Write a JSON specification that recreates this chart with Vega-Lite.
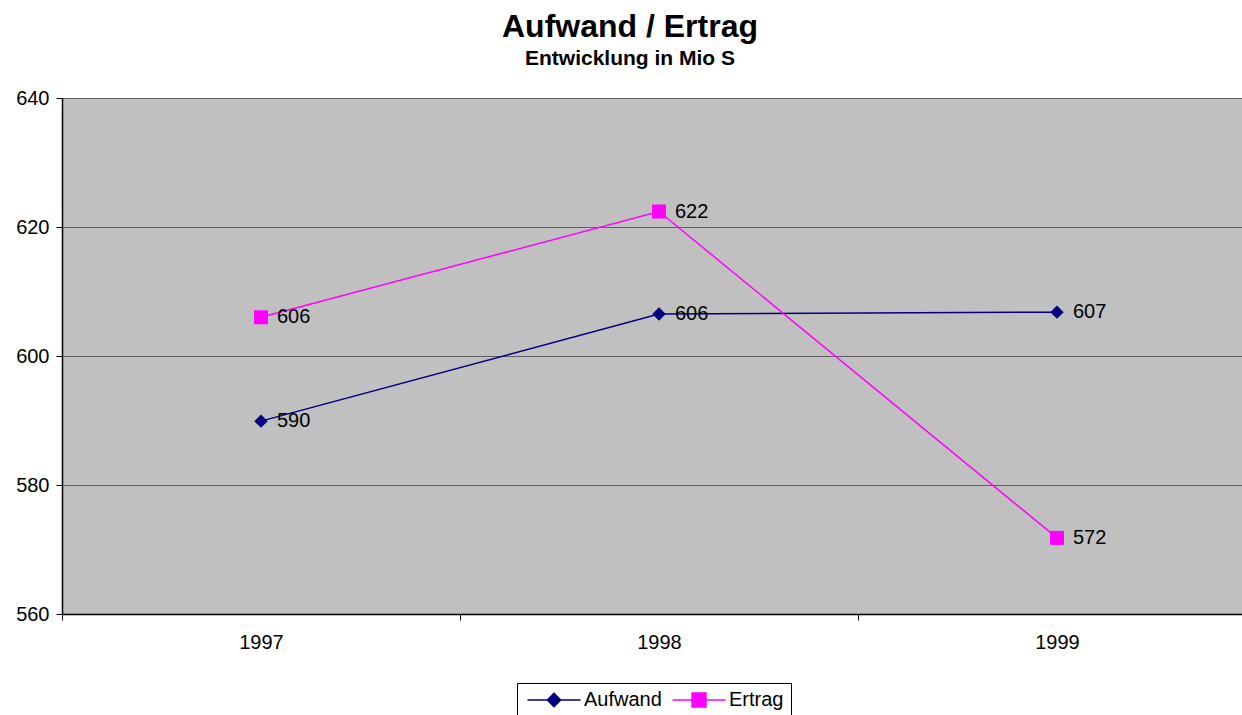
{
  "$schema": "https://vega.github.io/schema/vega-lite/v6.json",
  "autosize": "none",
  "width": 1194,
  "height": 516,
  "padding": {"left": 62, "top": 98, "right": 0, "bottom": 101},
  "background": "white",
  "config": {
    "font": "Liberation Sans",
    "view": {"fill": "#C0C0C0", "stroke": null}
  },
  "title": {
    "text": "Aufwand / Ertrag",
    "subtitle": "Entwicklung in Mio S",
    "anchor": "middle",
    "frame": "group",
    "dx": -29,
    "offset": 18,
    "fontSize": 32,
    "fontWeight": "bold",
    "color": "black",
    "subtitleFontSize": 21,
    "subtitleFontWeight": "bold",
    "subtitleColor": "black",
    "subtitlePadding": 4
  },
  "data": {
    "values": [
      {"Jahr": "1997", "Serie": "Aufwand", "Wert": 589.9, "Label": "590"},
      {"Jahr": "1998", "Serie": "Aufwand", "Wert": 606.5, "Label": "606"},
      {"Jahr": "1999", "Serie": "Aufwand", "Wert": 606.8, "Label": "607"},
      {"Jahr": "1997", "Serie": "Ertrag", "Wert": 606.0, "Label": "606"},
      {"Jahr": "1998", "Serie": "Ertrag", "Wert": 622.4, "Label": "622"},
      {"Jahr": "1999", "Serie": "Ertrag", "Wert": 571.8, "Label": "572"}
    ]
  },
  "encoding": {
    "x": {
      "field": "Jahr",
      "type": "nominal",
      "bandPosition": 0.5,
      "scale": {"type": "band", "paddingInner": 0, "paddingOuter": 0},
      "axis": {
        "title": null,
        "labelAngle": 0,
        "labelFontSize": 20,
        "labelColor": "black",
        "labelPadding": 12,
        "domainColor": "black",
        "domainWidth": 1.5,
        "tickColor": "black",
        "tickSize": 6,
        "tickBand": "extent",
        "grid": false
      }
    },
    "y": {
      "field": "Wert",
      "type": "quantitative",
      "scale": {"domain": [560, 640], "nice": false, "zero": false},
      "axis": {
        "title": null,
        "values": [560, 580, 600, 620, 640],
        "labelFontSize": 20,
        "labelColor": "black",
        "labelPadding": 7,
        "domainColor": "black",
        "domainWidth": 1.5,
        "tickColor": "black",
        "tickSize": 6,
        "grid": true,
        "gridColor": "#606060",
        "gridWidth": 1.2
      }
    }
  },
  "layer": [
    {
      "mark": {"type": "line", "strokeWidth": 1.5},
      "encoding": {
        "color": {
          "field": "Serie",
          "type": "nominal",
          "scale": {"domain": ["Aufwand", "Ertrag"], "range": ["#000080", "#FF00FF"]},
          "legend": {
            "title": null,
            "orient": "none",
            "direction": "horizontal",
            "legendX": 455,
            "legendY": 585,
            "padding": 7,
            "strokeColor": "black",
            "fillColor": "white",
            "labelFontSize": 20,
            "labelColor": "black",
            "labelOffset": 20,
            "symbolOffset": 20,
            "columnPadding": 7,
            "symbolSize": 176,
            "symbolStrokeWidth": 1.5,
            "symbolType": "M-4,0H4",
            "encode": {
              "symbols": {
                "update": {
                  "shape": {"signal": "datum.value === 'Aufwand' ? 'M-4,0H4M-1,0L0,-1L1,0L0,1Z' : 'M-4,0H4M-1.05,-1.05H1.05V1.05H-1.05Z'"},
                  "fill": {"signal": "datum.value === 'Aufwand' ? '#000080' : '#FF00FF'"},
                  "stroke": {"signal": "datum.value === 'Aufwand' ? '#000080' : '#FF00FF'"},
                  "opacity": {"value": 1},
                  "fillOpacity": {"value": 1}
                }
              }
            }
          }
        }
      }
    },
    {
      "transform": [{"filter": "datum.Serie === 'Aufwand'"}],
      "mark": {"type": "point", "shape": "diamond", "filled": true, "opacity": 1, "size": 180, "color": "#000080"}
    },
    {
      "transform": [{"filter": "datum.Serie === 'Ertrag'"}],
      "mark": {"type": "point", "shape": "square", "filled": true, "opacity": 1, "size": 196, "color": "#FF00FF"}
    },
    {
      "mark": {"type": "text", "align": "left", "baseline": "middle", "dx": 16, "fontSize": 20, "color": "black"},
      "encoding": {
        "text": {"field": "Label"}
      }
    }
  ]
}
